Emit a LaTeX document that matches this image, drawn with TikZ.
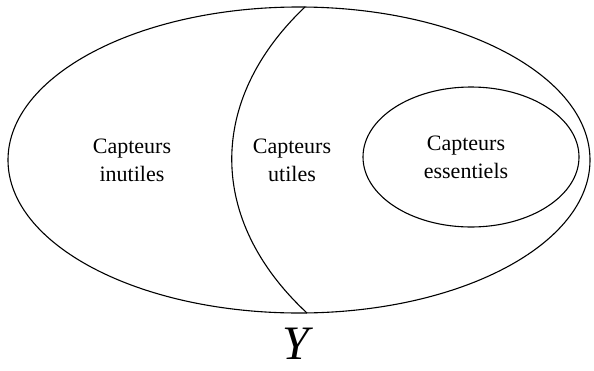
\documentclass[tikz,border=0pt]{standalone}
\usepackage{fontspec}
\setmainfont{Liberation Serif}
\usetikzlibrary{positioning}
\tikzset{
  setname/.style={align=center, font=\fontsize{22}{28}\selectfont, inner sep=0pt},
  set/.style={draw, line width=1.1pt}
}
\begin{document}
\begin{tikzpicture}[x=1pt, y=-1pt]
    \useasboundingbox (0,0) rectangle (594,370);
    \coordinate (top) at (305,7);
    \coordinate (bot) at (307,313);

    \path[set] (299,160) ellipse [x radius=291, y radius=153];
    \path[set] (471,157) ellipse [x radius=108, y radius=70];
    \path[set] (top) .. controls (207,100) and (207,220) .. (bot);

    \node (1) [setname] at (132,160) {Capteurs\\inutiles};
    \node (2) [setname] at (292,160) {Capteurs\\utiles};
    \node (3) [setname] at (466,157) {Capteurs\\essentiels};
    \node (4) [inner sep=0pt, font=\fontsize{48}{50}\selectfont\itshape] at (296,344) {Y};
  \end{tikzpicture}
\end{document}
